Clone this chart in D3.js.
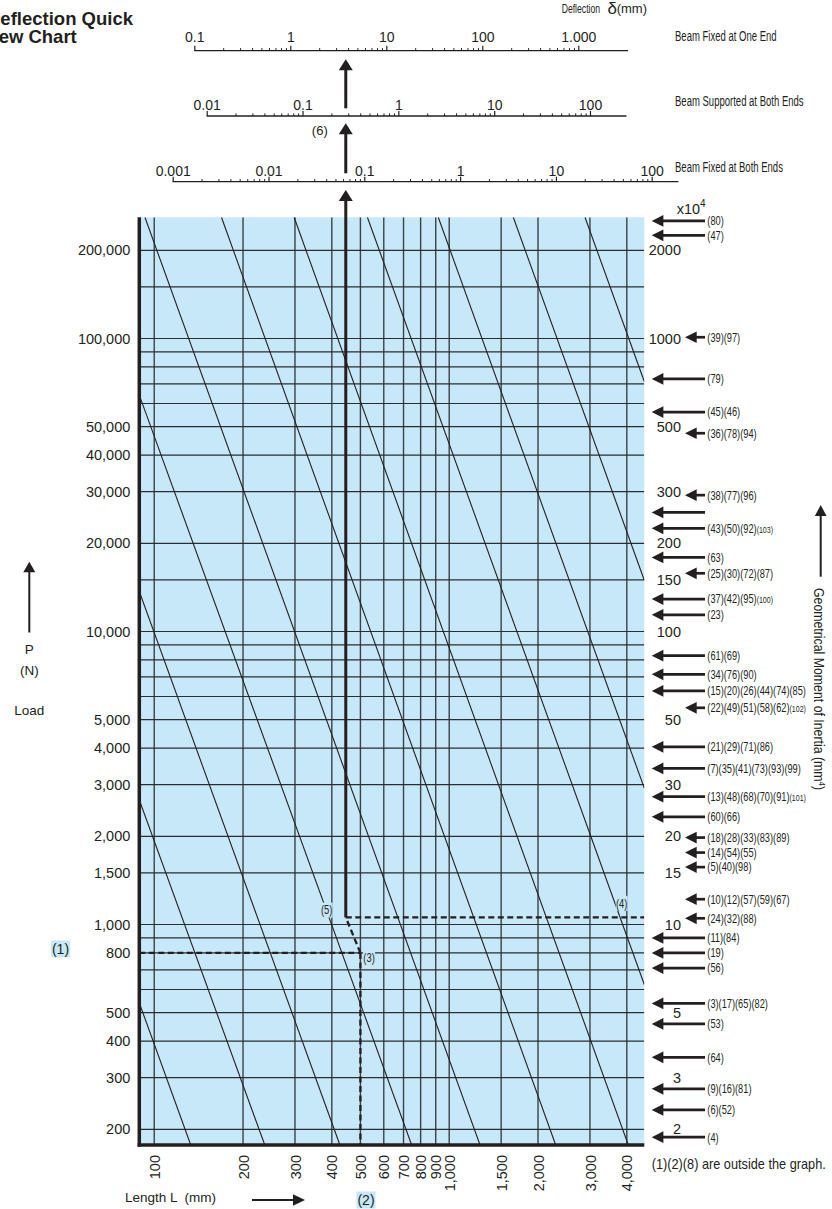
<!DOCTYPE html>
<html>
<head>
<meta charset="utf-8">
<script src="https://cdn.jsdelivr.net/npm/d3@7"></script>
<style>
  html, body { margin: 0; padding: 0; background: #fff; }
  svg { display: block; }
  text { font-family: "Liberation Sans", Arial, Helvetica, sans-serif; fill: #231f20; }
</style>
</head>
<body>
<svg id="chart" width="832" height="1209"></svg>
<script>
// ==========================================================
// DATA
// ==========================================================

// plot extent (length L in mm, load P in N)
const lengthDomain = [89, 4585];
const loadDomain = [176.8, 259200];

// left axis labels and horizontal grid
const loadTicks = [200000, 100000, 50000, 40000, 30000, 20000, 10000, 5000, 4000, 3000, 2000, 1500, 1000, 800, 500, 400, 300, 200];
const loadGrid = [200, 300, 400, 500, 600, 700, 800, 900, 1000, 1500, 2000, 3000, 4000, 5000, 6000, 7000, 8000, 9000,
                  10000, 15000, 20000, 30000, 40000, 50000, 60000, 70000, 80000, 90000, 100000, 150000, 200000];

// bottom axis labels = vertical grid
const lengthTicks = [100, 200, 300, 400, 500, 600, 700, 800, 900, 1000, 1500, 2000, 3000, 4000];

// right axis: geometrical moment of inertia (x10^4 mm^4)
const momentTicks = [2000, 1000, 500, 300, 200, 150, 100, 50, 30, 20, 15, 10, 5, 3, 2];

// diagonal reference lines, [L, P] where they enter and leave the plot
const diagonals = [
    [[89, 540], [133, 176.8]],
    [[89, 2660], [237, 176.8]],
    [[89, 13700], [426, 176.8]],
    [[89, 64100], [746, 176.8]],
    [[93, 259200], [1272, 176.8]],
    [[169, 259200], [2296, 176.8]],
    [[298, 259200], [4047, 176.8]],
    [[528, 259200], [4585, 624]],
    [[918, 259200], [4585, 2920]],
    [[1649, 259200], [4585, 14960]],
    [[2886, 259200], [4585, 71300]]
];

// worked example: load (1), length (2), point (3), turn onto profile (4)
const example = { P: 800, L: 500, Lturn: 446, Pturn: 1058 };
const exampleMarks = [
    { text: "(5)", L: 384, P: 1120 },
    { text: "(3)", L: 535, P: 768 },
    { text: "(4)", L: 3843, P: 1181 }
];

// profile numbers pointing at their moment of inertia
const profiles = [
    { I: 2520, label: "(80)" },
    { I: 2250, label: "(47)" },
    { I: 1010, label: "(39)(97)", short: true },
    { I: 728, label: "(79)" },
    { I: 561, label: "(45)(46)" },
    { I: 475, label: "(36)(78)(94)", short: true },
    { I: 292, label: "(38)(77)(96)", short: true },
    { I: 255, label: "" },
    { I: 225, label: "(43)(50)(92)(103)" },
    { I: 179, label: "(63)" },
    { I: 158, label: "(25)(30)(72)(87)", short: true },
    { I: 129, label: "(37)(42)(95)(100)" },
    { I: 114, label: "(23)" },
    { I: 82.7, label: "(61)(69)" },
    { I: 71.4, label: "(34)(76)(90)" },
    { I: 62.7, label: "(15)(20)(26)(44)(74)(85)" },
    { I: 54.9, label: "(22)(49)(51)(58)(62)(102)", short: true },
    { I: 40.4, label: "(21)(29)(71)(86)" },
    { I: 34.1, label: "(7)(35)(41)(73)(93)(99)" },
    { I: 27.3, label: "(13)(48)(68)(70)(91)(101)" },
    { I: 23.3, label: "(60)(66)" },
    { I: 19.8, label: "(18)(28)(33)(83)(89)", short: true },
    { I: 17.6, label: "(14)(54)(55)", short: true },
    { I: 15.7, label: "(5)(40)(98)", short: true },
    { I: 12.2, label: "(10)(12)(57)(59)(67)", short: true },
    { I: 10.5, label: "(24)(32)(88)", short: true },
    { I: 9.0, label: "(11)(84)" },
    { I: 8.0, label: "(19)" },
    { I: 7.1, label: "(56)" },
    { I: 5.38, label: "(3)(17)(65)(82)" },
    { I: 4.58, label: "(53)" },
    { I: 3.52, label: "(64)" },
    { I: 2.75, label: "(9)(16)(81)" },
    { I: 2.33, label: "(6)(52)" },
    { I: 1.88, label: "(4)" }
];

// deflection scales (mm)
const deflectionScales = [
    { name: "Beam Fixed at One End", majors: [0.1, 1, 10, 100, 1000], texts: ["0.1", "1", "10", "100", "1.000"], end: 3300 },
    { name: "Beam Supported at Both Ends", majors: [0.01, 0.1, 1, 10, 100], texts: ["0.01", "0.1", "1", "10", "100"], end: 240 },
    { name: "Beam Fixed at Both Ends", majors: [0.001, 0.01, 0.1, 1, 10, 100], texts: ["0.001", "0.01", "0.1", "1", "10", "100"], end: 190 }
];

// ==========================================================
// LAYOUT
// ==========================================================
const INK = "#231f20";
const BLUE = "#c7e8f8";
const plot = { left: 139.3, right: 644.3, top: 217.3, bottom: 1145 };
const scaleLayout = [
    { y: 50.7, x0: 194.3, x1: 578.3, pad: 3.5 },
    { y: 116, x0: 206.7, x1: 590, pad: 1.5 },
    { y: 181.7, x0: 172.7, x1: 651.7, pad: 1 }
];

const svg = d3.select("#chart");

const x = d3.scaleLog().domain(lengthDomain).range([plot.left, plot.right]);
const y = d3.scaleLog().domain(loadDomain).range([plot.bottom, plot.top]);
const yI = d3.scaleLog().domain(loadDomain.map(v => v / 100)).range([plot.bottom, plot.top]);

function squeezed(parent, px, py, str, size, sx, anchor) {
    return parent.append("text")
        .attr("transform", `translate(${px},${py}) scale(${sx},1)`)
        .attr("font-size", size)
        .attr("text-anchor", anchor || "start")
        .attr("dy", "0.35em")
        .text(str);
}

function arrowUp(parent, px, tipY, tailY, w, headW, headH) {
    parent.append("line")
        .attr("x1", px).attr("x2", px)
        .attr("y1", tailY).attr("y2", tipY + headH - 1)
        .attr("stroke", INK).attr("stroke-width", w);
    parent.append("path")
        .attr("d", `M${px},${tipY} L${px + headW / 2},${tipY + headH} L${px - headW / 2},${tipY + headH} Z`)
        .attr("fill", INK);
}

function arrowSide(parent, tipX, tailX, py, w, headW, headH) {
    const dir = tailX > tipX ? 1 : -1;
    parent.append("line")
        .attr("x1", tailX).attr("x2", tipX + dir * (headH - 1))
        .attr("y1", py).attr("y2", py)
        .attr("stroke", INK).attr("stroke-width", w);
    parent.append("path")
        .attr("d", `M${tipX},${py} L${tipX + dir * headH},${py - headW / 2} L${tipX + dir * headH},${py + headW / 2} Z`)
        .attr("fill", INK);
}

// ==========================================================
// TITLE
// ==========================================================
const title = svg.append("text")
    .attr("font-size", 18.5).attr("font-weight", "bold");
title.append("tspan").attr("x", -13).attr("y", 25).text("Deflection Quick");
title.append("tspan").attr("x", -18.5).attr("y", 42.7).text("View Chart");

// ==========================================================
// DEFLECTION SCALES
// ==========================================================
deflectionScales.forEach((s, i) => {
    const lay = scaleLayout[i];
    const sc = d3.scaleLog().domain([s.majors[0], s.majors[s.majors.length - 1]]).range([lay.x0, lay.x1]);
    const g = svg.append("g").attr("transform", `translate(0,${lay.y})`);

    g.append("line")
        .attr("x1", sc(s.majors[0])).attr("x2", sc(s.end))
        .attr("stroke", INK).attr("stroke-width", 1.3);

    const minors = [];
    for (let m = 0; m < s.majors.length - 1; m++) {
        for (let k = 2; k <= 9; k++) minors.push(s.majors[m] * k);
    }

    g.append("g")
        .call(d3.axisTop(sc).tickValues(minors).tickSize(2.6).tickFormat(""))
        .call(a => a.select(".domain").remove())
        .selectAll("line").attr("stroke", INK).attr("stroke-width", 1);

    g.append("g")
        .call(d3.axisTop(sc).tickValues(s.majors).tickSize(5).tickPadding(lay.pad)
            .tickFormat((d, j) => s.texts[j]))
        .call(a => a.select(".domain").remove())
        .attr("font-size", 14)
        .selectAll("line").attr("stroke", INK).attr("stroke-width", 1.2);

    squeezed(svg, 675, lay.y - 15, s.name, 14, 0.68);
});

squeezed(svg, 561.7, 9, "Deflection", 12, 0.72);
svg.append("text").attr("x", 607.5).attr("y", 13.5).attr("font-size", 17).text("δ");
svg.append("text").attr("x", 616.7).attr("y", 13).attr("font-size", 13).text("(mm)");

// ==========================================================
// PLOT AREA
// ==========================================================
svg.append("defs").append("clipPath").attr("id", "plotClip")
    .append("rect")
    .attr("x", plot.left).attr("y", plot.top)
    .attr("width", plot.right - plot.left).attr("height", plot.bottom - plot.top);

svg.append("rect")
    .attr("x", plot.left).attr("y", plot.top)
    .attr("width", plot.right - plot.left).attr("height", plot.bottom - plot.top)
    .attr("fill", BLUE);

const inner = svg.append("g").attr("clip-path", "url(#plotClip)");

inner.append("g").selectAll("line")
    .data(lengthTicks)
    .join("line")
    .attr("x1", d => x(d)).attr("x2", d => x(d))
    .attr("y1", plot.top).attr("y2", plot.bottom)
    .attr("stroke", "#3b4247").attr("stroke-width", 1.4);

inner.append("g").selectAll("line")
    .data(loadGrid)
    .join("line")
    .attr("x1", plot.left).attr("x2", plot.right)
    .attr("y1", d => y(d)).attr("y2", d => y(d))
    .attr("stroke", "#2a2e31").attr("stroke-width", 1.2);

const diagLine = d3.line().x(d => x(d[0])).y(d => y(d[1]));
inner.append("g").selectAll("path")
    .data(diagonals)
    .join("path")
    .attr("d", diagLine)
    .attr("fill", "none")
    .attr("stroke", INK).attr("stroke-width", 1.1);

// worked example
const dash = { stroke: INK, "stroke-width": 2.3, "stroke-dasharray": "6,3.5" };
function dashed(x1, y1, x2, y2) {
    const l = inner.append("line").attr("x1", x1).attr("y1", y1).attr("x2", x2).attr("y2", y2);
    Object.entries(dash).forEach(([k, v]) => l.attr(k, v));
}
dashed(plot.left, y(example.P), x(example.L), y(example.P));
dashed(x(example.L), y(example.P), x(example.L), plot.bottom);
dashed(x(example.L), y(example.P), x(example.Lturn), y(example.Pturn));
dashed(x(example.Lturn), y(example.Pturn), plot.right, y(example.Pturn));

exampleMarks.forEach(m => {
    inner.append("rect")
        .attr("x", x(m.L) - 6).attr("y", y(m.P) - 7.5)
        .attr("width", 12).attr("height", 15)
        .attr("fill", BLUE);
    squeezed(inner, x(m.L), y(m.P), m.text, 12.5, 0.75, "middle");
});

// thick axes
svg.append("line")
    .attr("x1", plot.left).attr("x2", plot.left)
    .attr("y1", plot.top).attr("y2", plot.bottom + 1.7)
    .attr("stroke", INK).attr("stroke-width", 3.5);
svg.append("line")
    .attr("x1", plot.left - 1.7).attr("x2", plot.right)
    .attr("y1", plot.bottom).attr("y2", plot.bottom)
    .attr("stroke", INK).attr("stroke-width", 3.5);

// deflection read-out line and arrows
const xv = x(example.Lturn);
svg.append("line")
    .attr("x1", xv).attr("x2", xv)
    .attr("y1", y(example.Pturn)).attr("y2", 200)
    .attr("stroke", INK).attr("stroke-width", 3);
arrowUp(svg, xv, 190, 200, 3, 14, 11);
arrowUp(svg, xv, 123.3, 173.3, 3, 14, 11);
arrowUp(svg, xv, 59.3, 108.3, 3, 14, 11);
svg.append("text").attr("x", xv - 26).attr("y", 130).attr("dy", "0.35em")
    .attr("font-size", 13).attr("text-anchor", "middle").text("(6)");

// ==========================================================
// AXES
// ==========================================================
svg.append("g")
    .attr("transform", `translate(${plot.left},0)`)
    .call(d3.axisLeft(y).tickValues(loadTicks).tickFormat(d3.format(",")).tickSize(0).tickPadding(9))
    .call(g => g.select(".domain").remove())
    .attr("font-size", 14.5);

const bottomAxis = svg.append("g")
    .attr("transform", `translate(0,${plot.bottom})`)
    .call(d3.axisBottom(x).tickValues(lengthTicks).tickFormat(d3.format(",")).tickSize(0))
    .call(g => g.select(".domain").remove())
    .attr("font-size", 14.5);
bottomAxis.selectAll("text")
    .attr("transform", "rotate(-90)")
    .attr("text-anchor", "end")
    .attr("x", -10).attr("y", 0).attr("dy", "0.35em");

// right moment of inertia scale
svg.append("g").selectAll("text")
    .data(momentTicks)
    .join("text")
    .attr("x", 681).attr("y", d => yI(d)).attr("dy", "0.35em")
    .attr("text-anchor", "end").attr("font-size", 14.5)
    .text(d => d);

const x104 = svg.append("text").attr("x", 676.7).attr("y", 214).attr("font-size", 14.5).text("x10");
x104.append("tspan").attr("dy", -7).attr("font-size", 10).text("4");

profiles.forEach(p => {
    const py = yI(p.I);
    arrowSide(svg, p.short ? 685 : 651.7, 705, py, 2.7, 11.7, 11.7);
    if (!p.label) return;
    const t = squeezed(svg, 707.3, py, "", 12.5, 0.74);
    t.selectAll("tspan")
        .data(p.label.match(/\(\d+\)/g))
        .join("tspan")
        .attr("font-size", d => d.length > 4 ? 9.5 : null)
        .text(d => d);
});

// axis titles
arrowUp(svg, 29.3, 561.7, 632.5, 2, 12, 10.5);
svg.append("text").attr("x", 29.3).attr("y", 654).attr("font-size", 13.5).attr("text-anchor", "middle").text("P");
svg.append("text").attr("x", 29.3).attr("y", 675).attr("font-size", 13.5).attr("text-anchor", "middle").text("(N)");
svg.append("text").attr("x", 29.3).attr("y", 715).attr("font-size", 13.5).attr("text-anchor", "middle").text("Load");

arrowUp(svg, 820.7, 505, 576.7, 2, 11.7, 11);
const rightTitle = svg.append("text")
    .attr("transform", "translate(819,588) rotate(90) scale(0.88,1)")
    .attr("font-size", 14).attr("dy", "0.35em")
    .text("Geometrical Moment of Inertia (mm");
rightTitle.append("tspan").attr("dy", -5).attr("font-size", 9).text("4");
rightTitle.append("tspan").attr("dy", 5).text(")");

svg.append("text").attr("x", 125).attr("y", 1202).attr("font-size", 13.5).text("Length L  (mm)")
    .attr("xml:space", "preserve");
arrowSide(svg, 305, 252, 1200, 2, 11.7, 12);

squeezed(svg, 651.7, 1164.3, "(1)(2)(8) are outside the graph.", 14, 0.91);

// example inputs outside the graph
[{ text: "(1)", cx: 60.5, cy: 949 }, { text: "(2)", cx: 366, cy: 1200 }].forEach(m => {
    svg.append("rect").attr("x", m.cx - 9.5).attr("y", m.cy - 8.5)
        .attr("width", 19).attr("height", 17).attr("fill", BLUE);
    svg.append("text").attr("x", m.cx).attr("y", m.cy).attr("dy", "0.35em")
        .attr("text-anchor", "middle").attr("font-size", 14).text(m.text);
});
</script>
</body>
</html>
